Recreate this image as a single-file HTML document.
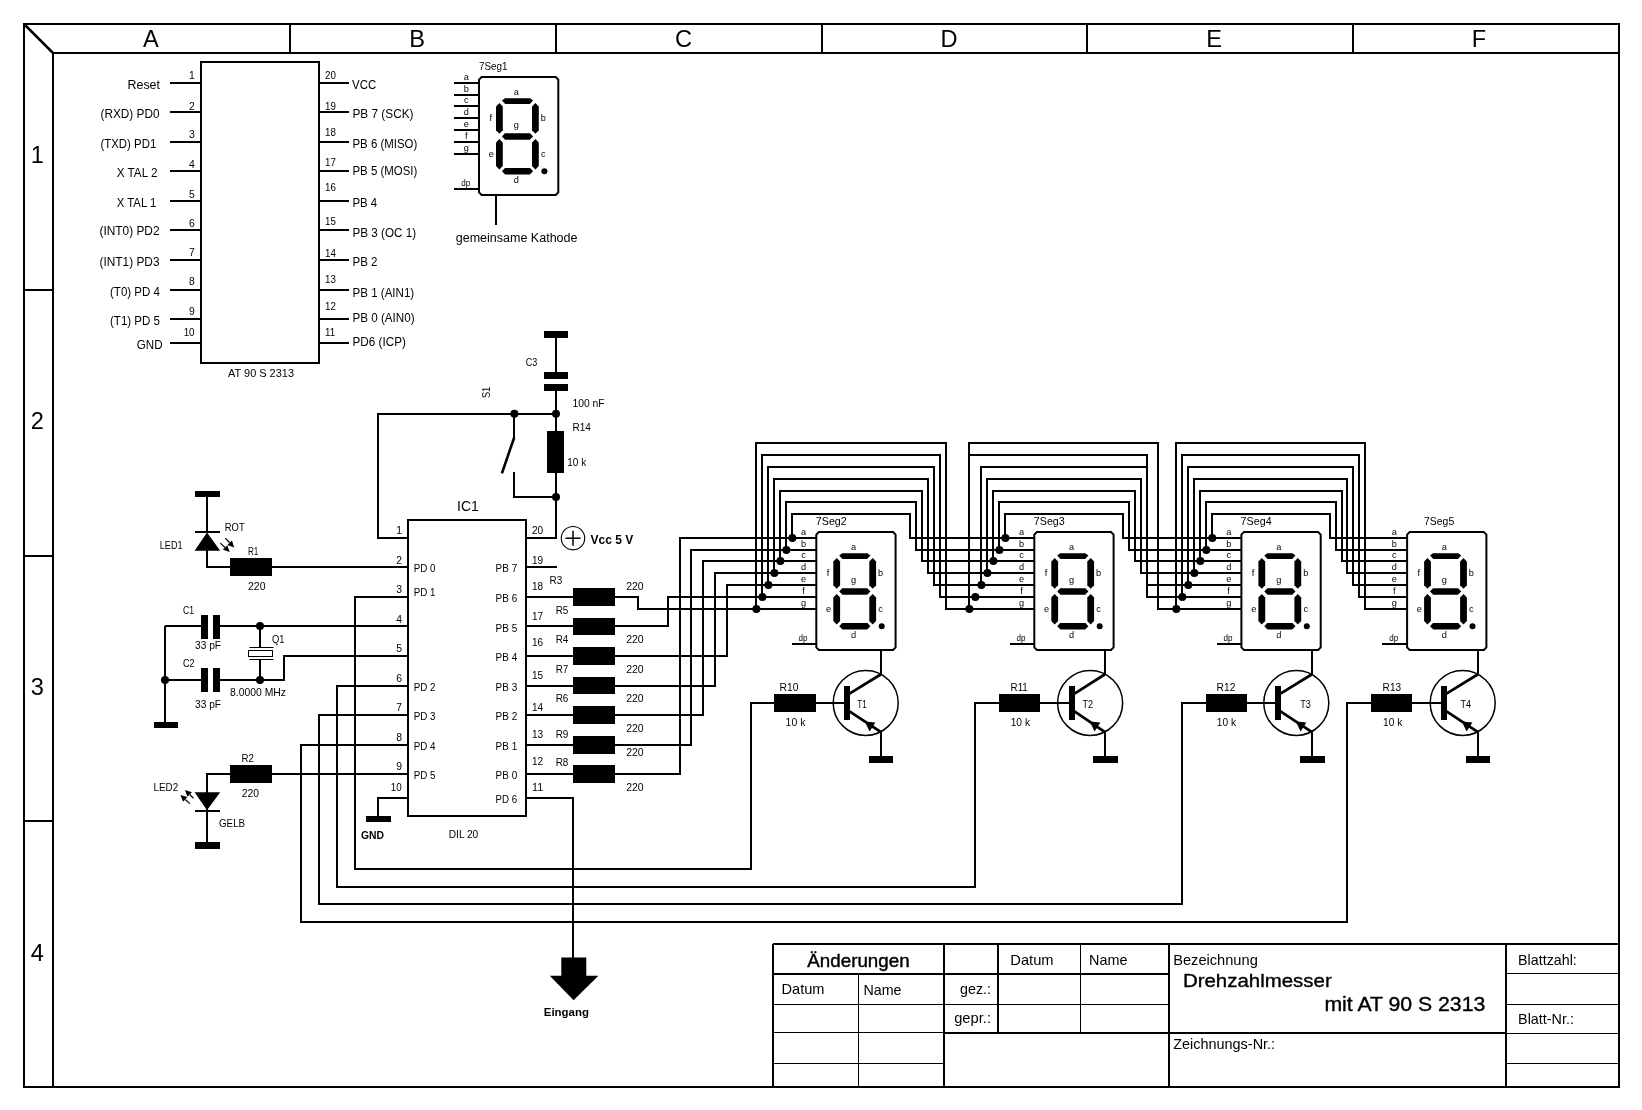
<!DOCTYPE html>
<html lang="de"><head><meta charset="utf-8"><title>Drehzahlmesser mit AT 90 S 2313</title>
<style>
html,body{margin:0;padding:0;background:#fff}
svg{display:block;filter:grayscale(1)}
svg *{vector-effect:none}
text{font-family:"Liberation Sans",Arial,Helvetica,sans-serif;fill:#000;stroke:none}
</style></head><body>
<svg width="1642" height="1110" viewBox="0 0 1642 1110" fill="none" stroke="#000" stroke-linecap="butt" stroke-linejoin="miter">
<rect x="0" y="0" width="1642" height="1110" fill="#fff" stroke="none"/>
<rect x="24" y="24" width="1595" height="1063" stroke-width="2"/>
<line x1="53" y1="53" x2="53" y2="1087" stroke-width="2"/>
<line x1="53" y1="53" x2="1619" y2="53" stroke-width="2"/>
<line x1="24" y1="24" x2="53" y2="53" stroke-width="2.5"/>
<line x1="290" y1="24" x2="290" y2="53" stroke-width="2"/>
<line x1="556" y1="24" x2="556" y2="53" stroke-width="2"/>
<line x1="822" y1="24" x2="822" y2="53" stroke-width="2"/>
<line x1="1087" y1="24" x2="1087" y2="53" stroke-width="2"/>
<line x1="1353" y1="24" x2="1353" y2="53" stroke-width="2"/>
<line x1="24" y1="290" x2="53" y2="290" stroke-width="2"/>
<line x1="24" y1="556" x2="53" y2="556" stroke-width="2"/>
<line x1="24" y1="821" x2="53" y2="821" stroke-width="2"/>
<text x="142.88" y="46.5" font-size="23.6">A</text>
<text x="409.13" y="46.5" font-size="23.6">B</text>
<text x="674.98" y="46.5" font-size="23.6">C</text>
<text x="940.48" y="46.5" font-size="23.6">D</text>
<text x="1206.13" y="46.5" font-size="23.6">E</text>
<text x="1471.79" y="46.5" font-size="23.6">F</text>
<text x="30.64" y="162.5" font-size="23.6">1</text>
<text x="30.64" y="429" font-size="23.6">2</text>
<text x="30.64" y="695" font-size="23.6">3</text>
<text x="30.64" y="961" font-size="23.6">4</text>
<rect x="201" y="62" width="118" height="301" stroke-width="2"/>
<line x1="170" y1="83" x2="201" y2="83" stroke-width="2"/>
<line x1="170" y1="112" x2="201" y2="112" stroke-width="2"/>
<line x1="170" y1="142" x2="201" y2="142" stroke-width="2"/>
<line x1="170" y1="171" x2="201" y2="171" stroke-width="2"/>
<line x1="170" y1="201" x2="201" y2="201" stroke-width="2"/>
<line x1="170" y1="230" x2="201" y2="230" stroke-width="2"/>
<line x1="170" y1="260" x2="201" y2="260" stroke-width="2"/>
<line x1="170" y1="290" x2="201" y2="290" stroke-width="2"/>
<line x1="170" y1="319" x2="201" y2="319" stroke-width="2"/>
<line x1="170" y1="343" x2="201" y2="343" stroke-width="2"/>
<line x1="319" y1="83" x2="349" y2="83" stroke-width="2"/>
<line x1="319" y1="112" x2="349" y2="112" stroke-width="2"/>
<line x1="319" y1="142" x2="349" y2="142" stroke-width="2"/>
<line x1="319" y1="171" x2="349" y2="171" stroke-width="2"/>
<line x1="319" y1="201" x2="349" y2="201" stroke-width="2"/>
<line x1="319" y1="230" x2="349" y2="230" stroke-width="2"/>
<line x1="319" y1="260" x2="349" y2="260" stroke-width="2"/>
<line x1="319" y1="290" x2="349" y2="290" stroke-width="2"/>
<line x1="319" y1="319" x2="349" y2="319" stroke-width="2"/>
<line x1="319" y1="343" x2="349" y2="343" stroke-width="2"/>
<text x="127.5" y="88.75" font-size="12.3" textLength="32.5" lengthAdjust="spacingAndGlyphs">Reset</text>
<text x="100.5" y="118" font-size="12.3" textLength="59" lengthAdjust="spacingAndGlyphs">(RXD) PD0</text>
<text x="100.5" y="147.5" font-size="12.3" textLength="55.75" lengthAdjust="spacingAndGlyphs">(TXD) PD1</text>
<text x="116.75" y="177" font-size="12.3" textLength="40.75" lengthAdjust="spacingAndGlyphs">X TAL 2</text>
<text x="116.75" y="206.75" font-size="12.3" textLength="39.5" lengthAdjust="spacingAndGlyphs">X TAL 1</text>
<text x="99.5" y="235" font-size="12.3" textLength="60" lengthAdjust="spacingAndGlyphs">(INT0) PD2</text>
<text x="99.5" y="266.25" font-size="12.3" textLength="60" lengthAdjust="spacingAndGlyphs">(INT1) PD3</text>
<text x="110" y="295.7" font-size="12.3" textLength="50" lengthAdjust="spacingAndGlyphs">(T0) PD 4</text>
<text x="110" y="325" font-size="12.3" textLength="50" lengthAdjust="spacingAndGlyphs">(T1) PD 5</text>
<text x="136.75" y="349" font-size="12.3" textLength="25.75" lengthAdjust="spacingAndGlyphs">GND</text>
<text x="189.06" y="79.25" font-size="10.4">1</text>
<text x="189.06" y="109.5" font-size="10.4">2</text>
<text x="189.06" y="138.25" font-size="10.4">3</text>
<text x="189.06" y="168.25" font-size="10.4">4</text>
<text x="189.06" y="197.5" font-size="10.4">5</text>
<text x="189.06" y="227" font-size="10.4">6</text>
<text x="189.06" y="256.25" font-size="10.4">7</text>
<text x="189.06" y="285.4" font-size="10.4">8</text>
<text x="189.06" y="314.6" font-size="10.4">9</text>
<text x="183.63" y="335.7" font-size="10.4" textLength="10.87" lengthAdjust="spacingAndGlyphs">10</text>
<text x="325" y="79.25" font-size="10.4" textLength="10.87" lengthAdjust="spacingAndGlyphs">20</text>
<text x="325" y="109.5" font-size="10.4" textLength="10.87" lengthAdjust="spacingAndGlyphs">19</text>
<text x="325" y="135.75" font-size="10.4" textLength="10.87" lengthAdjust="spacingAndGlyphs">18</text>
<text x="325" y="165.75" font-size="10.4" textLength="10.87" lengthAdjust="spacingAndGlyphs">17</text>
<text x="325" y="191.25" font-size="10.4" textLength="10.87" lengthAdjust="spacingAndGlyphs">16</text>
<text x="325" y="224.5" font-size="10.4" textLength="10.87" lengthAdjust="spacingAndGlyphs">15</text>
<text x="325" y="256.75" font-size="10.4" textLength="10.87" lengthAdjust="spacingAndGlyphs">14</text>
<text x="325" y="283" font-size="10.4" textLength="10.87" lengthAdjust="spacingAndGlyphs">13</text>
<text x="325" y="309.5" font-size="10.4" textLength="10.87" lengthAdjust="spacingAndGlyphs">12</text>
<text x="325" y="335.6" font-size="10.4" textLength="10.15" lengthAdjust="spacingAndGlyphs">11</text>
<text x="352" y="88.75" font-size="12.3" textLength="24.25" lengthAdjust="spacingAndGlyphs">VCC</text>
<text x="352.5" y="118" font-size="12.3" textLength="61" lengthAdjust="spacingAndGlyphs">PB 7 (SCK)</text>
<text x="352.5" y="147.5" font-size="12.3" textLength="64.8" lengthAdjust="spacingAndGlyphs">PB 6 (MISO)</text>
<text x="352.5" y="175" font-size="12.3" textLength="64.8" lengthAdjust="spacingAndGlyphs">PB 5 (MOSI)</text>
<text x="352.5" y="206.75" font-size="12.3" textLength="24.7" lengthAdjust="spacingAndGlyphs">PB 4</text>
<text x="352.5" y="237" font-size="12.3" textLength="63.6" lengthAdjust="spacingAndGlyphs">PB 3 (OC 1)</text>
<text x="352.5" y="266.25" font-size="12.3" textLength="25" lengthAdjust="spacingAndGlyphs">PB 2</text>
<text x="352.5" y="296.5" font-size="12.3" textLength="61.7" lengthAdjust="spacingAndGlyphs">PB 1 (AIN1)</text>
<text x="352.5" y="322" font-size="12.3" textLength="62.1" lengthAdjust="spacingAndGlyphs">PB 0 (AIN0)</text>
<text x="352.5" y="345.75" font-size="12.3" textLength="53.4" lengthAdjust="spacingAndGlyphs">PD6 (ICP)</text>
<text x="228" y="377" font-size="10.4" textLength="66" lengthAdjust="spacingAndGlyphs">AT 90 S 2313</text>
<polygon points="481.6,77 555.7,77 558.3,79.6 558.3,192.4 555.7,195 481.6,195 479,192.4 479,79.6" fill="none" stroke-width="2"/>
<polygon points="501.9,100.5 504.9,98.2 530.1,98.2 533.1,100.5 529.8,104 505.2,104" fill="#000" stroke-width="0"/>
<polygon points="501.9,136.4 504.9,133.15 530.1,133.15 533.1,136.4 529.8,139.65 505.2,139.65" fill="#000" stroke-width="0"/>
<polygon points="501.9,171.3 504.9,168.05 530.1,168.05 533.1,171.3 529.8,174.55 505.2,174.55" fill="#000" stroke-width="0"/>
<polygon points="499.4,102.9 502.8,106.4 502.8,130.3 499.4,133.8 496,130.3 496,106.4" fill="#000" stroke-width="0"/>
<polygon points="535.4,102.9 538.8,106.4 538.8,130.3 535.4,133.8 532,130.3 532,106.4" fill="#000" stroke-width="0"/>
<polygon points="499.4,139.1 502.8,142.6 502.8,166.1 499.4,169.6 496,166.1 496,142.6" fill="#000" stroke-width="0"/>
<polygon points="535.4,139.1 538.8,142.6 538.8,166.1 535.4,169.6 532,166.1 532,142.6" fill="#000" stroke-width="0"/>
<circle cx="544.4" cy="171.3" r="3.0" fill="#000" stroke="none"/>
<text x="513.75" y="94.7" font-size="9.2">a</text>
<text x="489.38" y="120.5" font-size="9.2">f</text>
<text x="540.75" y="120.5" font-size="9.2">b</text>
<text x="513.75" y="127.9" font-size="9.2">g</text>
<text x="488.75" y="156.8" font-size="9.2">e</text>
<text x="540.98" y="156.8" font-size="9.2">c</text>
<text x="513.75" y="182.5" font-size="9.2">d</text>
<text x="463.75" y="79.8" font-size="9.2">a</text>
<text x="463.75" y="91.8" font-size="9.2">b</text>
<text x="463.98" y="102.8" font-size="9.2">c</text>
<text x="463.75" y="114.8" font-size="9.2">d</text>
<text x="463.75" y="126.8" font-size="9.2">e</text>
<text x="464.88" y="138.8" font-size="9.2">f</text>
<text x="463.75" y="150.8" font-size="9.2">g</text>
<text x="461.2" y="185.9" font-size="9.2" textLength="9" lengthAdjust="spacingAndGlyphs">dp</text>
<line x1="454" y1="189" x2="479" y2="189" stroke-width="2"/>
<text x="479" y="69.7" font-size="10.4" textLength="28.5" lengthAdjust="spacingAndGlyphs">7Seg1</text>
<line x1="454" y1="83" x2="479" y2="83" stroke-width="2"/>
<line x1="454" y1="95" x2="479" y2="95" stroke-width="2"/>
<line x1="454" y1="106" x2="479" y2="106" stroke-width="2"/>
<line x1="454" y1="118" x2="479" y2="118" stroke-width="2"/>
<line x1="454" y1="130" x2="479" y2="130" stroke-width="2"/>
<line x1="454" y1="142" x2="479" y2="142" stroke-width="2"/>
<line x1="454" y1="154" x2="479" y2="154" stroke-width="2"/>
<line x1="496" y1="195" x2="496" y2="225" stroke-width="2"/>
<text x="455.75" y="242" font-size="12.3" textLength="121.75" lengthAdjust="spacingAndGlyphs">gemeinsame Kathode</text>
<rect x="544" y="331" width="24" height="7" fill="#000" stroke="none"/>
<line x1="556" y1="337" x2="556" y2="373" stroke-width="2"/>
<rect x="544" y="372" width="24" height="7" fill="#000" stroke="none"/>
<rect x="544" y="384" width="24" height="7" fill="#000" stroke="none"/>
<line x1="556" y1="391" x2="556" y2="432" stroke-width="2"/>
<rect x="547" y="431" width="17" height="42" fill="#000" stroke="none"/>
<line x1="556" y1="472" x2="556" y2="538" stroke-width="2"/>
<circle cx="556" cy="413.7" r="4" fill="#000" stroke="none"/>
<circle cx="514.4" cy="413.7" r="4" fill="#000" stroke="none"/>
<circle cx="556" cy="497" r="4" fill="#000" stroke="none"/>
<polyline points="408,538 378,538 378,414 556,414" stroke-width="2"/>
<line x1="514" y1="414" x2="514" y2="439" stroke-width="2"/>
<line x1="514.2" y1="437.5" x2="501.9" y2="473.3" stroke-width="2.6"/>
<polyline points="514,472 514,497 556,497" stroke-width="2"/>
<line x1="526" y1="538" x2="557" y2="538" stroke-width="2"/>
<text x="525.75" y="365.75" font-size="10.4" textLength="11.5" lengthAdjust="spacingAndGlyphs">C3</text>
<text x="490.2" y="398.1" font-size="10.4" transform="rotate(-90 490.2 398.1)" textLength="11.3" lengthAdjust="spacingAndGlyphs">S1</text>
<text x="572.5" y="406.8" font-size="10.4" textLength="32.2" lengthAdjust="spacingAndGlyphs">100 nF</text>
<text x="572.5" y="430.6" font-size="10.4" textLength="18.4" lengthAdjust="spacingAndGlyphs">R14</text>
<text x="567.2" y="465.5" font-size="10.4" textLength="19" lengthAdjust="spacingAndGlyphs">10 k</text>
<circle cx="573" cy="538.2" r="11.7" stroke-width="1.1"/>
<line x1="565.5" y1="538.2" x2="580.6" y2="538.2" stroke-width="1.5"/>
<line x1="573" y1="530.7" x2="573" y2="545.8" stroke-width="1.5"/>
<text x="590.5" y="544" font-size="12.4" font-weight="bold" textLength="42.75" lengthAdjust="spacingAndGlyphs">Vcc 5 V</text>
<rect x="408" y="520" width="118" height="296" stroke-width="2"/>
<text x="457" y="510.6" font-size="14.8" fill="#222" textLength="21.8" lengthAdjust="spacingAndGlyphs">IC1</text>
<text x="396.16" y="533.6" font-size="10.4">1</text>
<text x="396.16" y="563.5" font-size="10.4">2</text>
<text x="396.16" y="592.6" font-size="10.4">3</text>
<text x="396.16" y="622.6" font-size="10.4">4</text>
<text x="396.16" y="651.8" font-size="10.4">5</text>
<text x="396.16" y="681.5" font-size="10.4">6</text>
<text x="396.16" y="710.5" font-size="10.4">7</text>
<text x="396.16" y="740.5" font-size="10.4">8</text>
<text x="396.16" y="769.5" font-size="10.4">9</text>
<text x="390.73" y="791" font-size="10.4" textLength="10.87" lengthAdjust="spacingAndGlyphs">10</text>
<text x="532" y="533.6" font-size="10.4" textLength="11.2" lengthAdjust="spacingAndGlyphs">20</text>
<text x="532" y="563.5" font-size="10.4" textLength="11.2" lengthAdjust="spacingAndGlyphs">19</text>
<text x="532" y="589.5" font-size="10.4" textLength="11.2" lengthAdjust="spacingAndGlyphs">18</text>
<text x="532" y="619.5" font-size="10.4" textLength="11.2" lengthAdjust="spacingAndGlyphs">17</text>
<text x="532" y="645.7" font-size="10.4" textLength="11.2" lengthAdjust="spacingAndGlyphs">16</text>
<text x="532" y="678.7" font-size="10.4" textLength="11.2" lengthAdjust="spacingAndGlyphs">15</text>
<text x="532" y="711.2" font-size="10.4" textLength="11.2" lengthAdjust="spacingAndGlyphs">14</text>
<text x="532" y="738.2" font-size="10.4" textLength="11.2" lengthAdjust="spacingAndGlyphs">13</text>
<text x="532" y="765" font-size="10.4" textLength="11.2" lengthAdjust="spacingAndGlyphs">12</text>
<text x="532" y="790.7" font-size="10.4" textLength="11.2" lengthAdjust="spacingAndGlyphs">11</text>
<text x="413.7" y="571.8" font-size="10.4" textLength="21.8" lengthAdjust="spacingAndGlyphs">PD 0</text>
<text x="413.7" y="596" font-size="10.4" textLength="21.8" lengthAdjust="spacingAndGlyphs">PD 1</text>
<text x="413.7" y="691.2" font-size="10.4" textLength="21.8" lengthAdjust="spacingAndGlyphs">PD 2</text>
<text x="413.7" y="720" font-size="10.4" textLength="21.8" lengthAdjust="spacingAndGlyphs">PD 3</text>
<text x="413.7" y="750" font-size="10.4" textLength="21.8" lengthAdjust="spacingAndGlyphs">PD 4</text>
<text x="413.7" y="778.8" font-size="10.4" textLength="21.8" lengthAdjust="spacingAndGlyphs">PD 5</text>
<text x="495.6" y="571.8" font-size="10.4" textLength="21.6" lengthAdjust="spacingAndGlyphs">PB 7</text>
<text x="495.6" y="601.7" font-size="10.4" textLength="21.6" lengthAdjust="spacingAndGlyphs">PB 6</text>
<text x="495.6" y="631.7" font-size="10.4" textLength="21.6" lengthAdjust="spacingAndGlyphs">PB 5</text>
<text x="495.6" y="661.2" font-size="10.4" textLength="21.6" lengthAdjust="spacingAndGlyphs">PB 4</text>
<text x="495.6" y="691.2" font-size="10.4" textLength="21.6" lengthAdjust="spacingAndGlyphs">PB 3</text>
<text x="495.6" y="720" font-size="10.4" textLength="21.6" lengthAdjust="spacingAndGlyphs">PB 2</text>
<text x="495.6" y="750" font-size="10.4" textLength="21.6" lengthAdjust="spacingAndGlyphs">PB 1</text>
<text x="495.6" y="778.8" font-size="10.4" textLength="21.6" lengthAdjust="spacingAndGlyphs">PB 0</text>
<text x="495.6" y="802.5" font-size="10.4" textLength="21.6" lengthAdjust="spacingAndGlyphs">PD 6</text>
<text x="448.75" y="838" font-size="10.4" textLength="29.5" lengthAdjust="spacingAndGlyphs">DIL 20</text>
<text x="361" y="838.5" font-size="10.6" font-weight="bold" textLength="23" lengthAdjust="spacingAndGlyphs">GND</text>
<line x1="526" y1="567" x2="557" y2="567" stroke-width="2"/>
<rect x="195" y="491" width="25" height="6" fill="#000" stroke="none"/>
<line x1="207" y1="497" x2="207" y2="533" stroke-width="2"/>
<line x1="195" y1="532" x2="220" y2="532" stroke-width="2"/>
<polygon points="207,532.6 220.2,550.8 194.6,550.8" fill="#000" stroke-width="0"/>
<polyline points="207,550 207,567 231,567" stroke-width="2"/>
<rect x="230" y="558" width="42" height="18" fill="#000" stroke="none"/>
<line x1="271" y1="567" x2="408" y2="567" stroke-width="2"/>
<line x1="225.3" y1="538.2" x2="229.68" y2="542.73" stroke-width="1.2"/>
<polygon points="234.2,547.4 227.38,544.95 231.98,540.5" fill="#000" stroke-width="0"/>
<line x1="220.3" y1="543.1" x2="225.03" y2="547.48" stroke-width="1.2"/>
<polygon points="229.8,551.9 222.86,549.83 227.21,545.14" fill="#000" stroke-width="0"/>
<text x="224.8" y="530.7" font-size="10.4" textLength="19.9" lengthAdjust="spacingAndGlyphs">ROT</text>
<text x="159.8" y="549" font-size="10.4" textLength="22.8" lengthAdjust="spacingAndGlyphs">LED1</text>
<text x="248" y="554.5" font-size="10.4" textLength="10.4" lengthAdjust="spacingAndGlyphs">R1</text>
<text x="248" y="590" font-size="10.4" textLength="17.5" lengthAdjust="spacingAndGlyphs">220</text>
<line x1="165" y1="626" x2="202" y2="626" stroke-width="2"/>
<line x1="220" y1="626" x2="408" y2="626" stroke-width="2"/>
<rect x="201" y="615" width="7" height="24" fill="#000" stroke="none"/>
<rect x="213" y="615" width="7" height="24" fill="#000" stroke="none"/>
<line x1="165" y1="680" x2="202" y2="680" stroke-width="2"/>
<rect x="201" y="668" width="7" height="24" fill="#000" stroke="none"/>
<rect x="213" y="668" width="7" height="24" fill="#000" stroke="none"/>
<polyline points="220,680 284,680 284,656 408,656" stroke-width="2"/>
<line x1="165" y1="626" x2="165" y2="722" stroke-width="2"/>
<rect x="154" y="722" width="24" height="6" fill="#000" stroke="none"/>
<circle cx="260" cy="626" r="4" fill="#000" stroke="none"/>
<circle cx="165" cy="680" r="4" fill="#000" stroke="none"/>
<circle cx="260" cy="680" r="4" fill="#000" stroke="none"/>
<line x1="260" y1="626" x2="260" y2="647" stroke-width="2"/>
<line x1="249.5" y1="647.5" x2="273.5" y2="647.5" stroke-width="1"/>
<rect x="248.5" y="650.5" width="24" height="6" stroke-width="1"/>
<line x1="249.5" y1="659.5" x2="273.5" y2="659.5" stroke-width="1"/>
<line x1="260" y1="659" x2="260" y2="680" stroke-width="2"/>
<text x="183" y="614" font-size="10.4" textLength="11" lengthAdjust="spacingAndGlyphs">C1</text>
<text x="195" y="649" font-size="10.4" textLength="26" lengthAdjust="spacingAndGlyphs">33 pF</text>
<text x="272" y="643" font-size="10.4" textLength="12.5" lengthAdjust="spacingAndGlyphs">Q1</text>
<text x="183" y="667" font-size="10.4" textLength="11.5" lengthAdjust="spacingAndGlyphs">C2</text>
<text x="230" y="696.4" font-size="10.4" textLength="56" lengthAdjust="spacingAndGlyphs">8.0000 MHz</text>
<text x="195" y="708" font-size="10.4" textLength="26" lengthAdjust="spacingAndGlyphs">33 pF</text>
<polyline points="231,774 207,774 207,843" stroke-width="2"/>
<rect x="230" y="765" width="42" height="18" fill="#000" stroke="none"/>
<line x1="271" y1="774" x2="408" y2="774" stroke-width="2"/>
<polygon points="194.6,792.2 220.2,792.2 207,810.3" fill="#000" stroke-width="0"/>
<line x1="195" y1="811" x2="220" y2="811" stroke-width="2"/>
<rect x="195" y="842" width="25" height="7" fill="#000" stroke="none"/>
<line x1="193.6" y1="798.4" x2="189.65" y2="794.54" stroke-width="1.2"/>
<polygon points="185,790 191.89,792.25 187.41,796.83" fill="#000" stroke-width="0"/>
<line x1="189.9" y1="803.6" x2="185.24" y2="799.43" stroke-width="1.2"/>
<polygon points="180.4,795.1 187.38,797.05 183.11,801.82" fill="#000" stroke-width="0"/>
<text x="153.6" y="790.7" font-size="10.4" textLength="24.6" lengthAdjust="spacingAndGlyphs">LED2</text>
<text x="241.6" y="761.7" font-size="10.4" textLength="12.4" lengthAdjust="spacingAndGlyphs">R2</text>
<text x="241.8" y="796.6" font-size="10.4" textLength="17.3" lengthAdjust="spacingAndGlyphs">220</text>
<text x="218.9" y="826.5" font-size="10.4" textLength="26.3" lengthAdjust="spacingAndGlyphs">GELB</text>
<polyline points="408,798 378,798 378,817" stroke-width="2"/>
<rect x="366" y="816" width="25" height="6" fill="#000" stroke="none"/>
<polyline points="408,597 355,597 355,869 751,869 751,703 775,703" stroke-width="2"/>
<polyline points="408,686 337,686 337,887 975,887 975,703 1000,703" stroke-width="2"/>
<polyline points="408,715 319,715 319,904 1182,904 1182,703 1207,703" stroke-width="2"/>
<polyline points="408,745 301,745 301,922 1347,922 1347,703 1372,703" stroke-width="2"/>
<rect x="573" y="588" width="42" height="18" fill="#000" stroke="none"/>
<rect x="573" y="618" width="42" height="17" fill="#000" stroke="none"/>
<rect x="573" y="647" width="42" height="18" fill="#000" stroke="none"/>
<rect x="573" y="677" width="42" height="17" fill="#000" stroke="none"/>
<rect x="573" y="706" width="42" height="18" fill="#000" stroke="none"/>
<rect x="573" y="736" width="42" height="18" fill="#000" stroke="none"/>
<rect x="573" y="765" width="42" height="18" fill="#000" stroke="none"/>
<polyline points="526,597 574,597" stroke-width="2"/>
<polyline points="614,597 638,597 638,609 816,609" stroke-width="2"/>
<polyline points="526,626 574,626" stroke-width="2"/>
<polyline points="614,626 668,626 668,597 816,597" stroke-width="2"/>
<polyline points="526,656 574,656" stroke-width="2"/>
<polyline points="614,656 727,656 727,585 816,585" stroke-width="2"/>
<polyline points="526,686 574,686" stroke-width="2"/>
<polyline points="614,686 715,686 715,573 816,573" stroke-width="2"/>
<polyline points="526,715 574,715" stroke-width="2"/>
<polyline points="614,715 703,715 703,561 816,561" stroke-width="2"/>
<polyline points="526,745 574,745" stroke-width="2"/>
<polyline points="614,745 691,745 691,550 816,550" stroke-width="2"/>
<polyline points="526,774 574,774" stroke-width="2"/>
<polyline points="614,774 680,774 680,538 816,538" stroke-width="2"/>
<text x="549.6" y="583.6" font-size="10.4" textLength="12.7" lengthAdjust="spacingAndGlyphs">R3</text>
<text x="555.7" y="613.5" font-size="10.4" textLength="12.7" lengthAdjust="spacingAndGlyphs">R5</text>
<text x="555.7" y="642.6" font-size="10.4" textLength="12.7" lengthAdjust="spacingAndGlyphs">R4</text>
<text x="555.7" y="673" font-size="10.4" textLength="12.7" lengthAdjust="spacingAndGlyphs">R7</text>
<text x="555.7" y="702" font-size="10.4" textLength="12.7" lengthAdjust="spacingAndGlyphs">R6</text>
<text x="555.7" y="737.5" font-size="10.4" textLength="12.7" lengthAdjust="spacingAndGlyphs">R9</text>
<text x="555.7" y="766.2" font-size="10.4" textLength="12.7" lengthAdjust="spacingAndGlyphs">R8</text>
<text x="626.2" y="590" font-size="10.4" textLength="17.5" lengthAdjust="spacingAndGlyphs">220</text>
<text x="626.2" y="643" font-size="10.4" textLength="17.5" lengthAdjust="spacingAndGlyphs">220</text>
<text x="626.2" y="673" font-size="10.4" textLength="17.5" lengthAdjust="spacingAndGlyphs">220</text>
<text x="626.2" y="702" font-size="10.4" textLength="17.5" lengthAdjust="spacingAndGlyphs">220</text>
<text x="626.2" y="732" font-size="10.4" textLength="17.5" lengthAdjust="spacingAndGlyphs">220</text>
<text x="626.2" y="756.2" font-size="10.4" textLength="17.5" lengthAdjust="spacingAndGlyphs">220</text>
<text x="626.2" y="790.7" font-size="10.4" textLength="17.5" lengthAdjust="spacingAndGlyphs">220</text>
<polyline points="526,798 573,798 573,958" stroke-width="2"/>
<polygon points="561.3,957.5 586.3,957.5 586.3,975.8 598.4,975.8 573.6,1000.2 549.8,975.8 561.3,975.8" fill="#000" stroke-width="0"/>
<text x="543.75" y="1016.4" font-size="11.6" font-weight="bold" textLength="45.15" lengthAdjust="spacingAndGlyphs">Eingang</text>
<polygon points="818.9,532 893,532 895.6,534.6 895.6,647.4 893,650 818.9,650 816.3,647.4 816.3,534.6" fill="none" stroke-width="2"/>
<polygon points="839.2,555.5 842.2,553.2 867.4,553.2 870.4,555.5 867.1,559 842.5,559" fill="#000" stroke-width="0"/>
<polygon points="839.2,591.4 842.2,588.15 867.4,588.15 870.4,591.4 867.1,594.65 842.5,594.65" fill="#000" stroke-width="0"/>
<polygon points="839.2,626.3 842.2,623.05 867.4,623.05 870.4,626.3 867.1,629.55 842.5,629.55" fill="#000" stroke-width="0"/>
<polygon points="836.7,557.9 840.1,561.4 840.1,585.3 836.7,588.8 833.3,585.3 833.3,561.4" fill="#000" stroke-width="0"/>
<polygon points="872.7,557.9 876.1,561.4 876.1,585.3 872.7,588.8 869.3,585.3 869.3,561.4" fill="#000" stroke-width="0"/>
<polygon points="836.7,594.1 840.1,597.6 840.1,621.1 836.7,624.6 833.3,621.1 833.3,597.6" fill="#000" stroke-width="0"/>
<polygon points="872.7,594.1 876.1,597.6 876.1,621.1 872.7,624.6 869.3,621.1 869.3,597.6" fill="#000" stroke-width="0"/>
<circle cx="881.7" cy="626.3" r="3.0" fill="#000" stroke="none"/>
<text x="851.05" y="549.7" font-size="9.2">a</text>
<text x="826.68" y="575.5" font-size="9.2">f</text>
<text x="878.05" y="575.5" font-size="9.2">b</text>
<text x="851.05" y="582.9" font-size="9.2">g</text>
<text x="826.05" y="611.8" font-size="9.2">e</text>
<text x="878.28" y="611.8" font-size="9.2">c</text>
<text x="851.05" y="637.5" font-size="9.2">d</text>
<text x="801.05" y="534.8" font-size="9.2">a</text>
<text x="801.05" y="546.8" font-size="9.2">b</text>
<text x="801.28" y="557.8" font-size="9.2">c</text>
<text x="801.05" y="569.8" font-size="9.2">d</text>
<text x="801.05" y="581.8" font-size="9.2">e</text>
<text x="802.18" y="593.8" font-size="9.2">f</text>
<text x="801.05" y="605.8" font-size="9.2">g</text>
<text x="798.5" y="640.9" font-size="9.2" textLength="9" lengthAdjust="spacingAndGlyphs">dp</text>
<line x1="792" y1="644" x2="816" y2="644" stroke-width="2"/>
<text x="815.8" y="524.7" font-size="10.4" textLength="31" lengthAdjust="spacingAndGlyphs">7Seg2</text>
<polygon points="1036.9,532 1111,532 1113.6,534.6 1113.6,647.4 1111,650 1036.9,650 1034.3,647.4 1034.3,534.6" fill="none" stroke-width="2"/>
<polygon points="1057.2,555.5 1060.2,553.2 1085.4,553.2 1088.4,555.5 1085.1,559 1060.5,559" fill="#000" stroke-width="0"/>
<polygon points="1057.2,591.4 1060.2,588.15 1085.4,588.15 1088.4,591.4 1085.1,594.65 1060.5,594.65" fill="#000" stroke-width="0"/>
<polygon points="1057.2,626.3 1060.2,623.05 1085.4,623.05 1088.4,626.3 1085.1,629.55 1060.5,629.55" fill="#000" stroke-width="0"/>
<polygon points="1054.7,557.9 1058.1,561.4 1058.1,585.3 1054.7,588.8 1051.3,585.3 1051.3,561.4" fill="#000" stroke-width="0"/>
<polygon points="1090.7,557.9 1094.1,561.4 1094.1,585.3 1090.7,588.8 1087.3,585.3 1087.3,561.4" fill="#000" stroke-width="0"/>
<polygon points="1054.7,594.1 1058.1,597.6 1058.1,621.1 1054.7,624.6 1051.3,621.1 1051.3,597.6" fill="#000" stroke-width="0"/>
<polygon points="1090.7,594.1 1094.1,597.6 1094.1,621.1 1090.7,624.6 1087.3,621.1 1087.3,597.6" fill="#000" stroke-width="0"/>
<circle cx="1099.7" cy="626.3" r="3.0" fill="#000" stroke="none"/>
<text x="1069.05" y="549.7" font-size="9.2">a</text>
<text x="1044.68" y="575.5" font-size="9.2">f</text>
<text x="1096.05" y="575.5" font-size="9.2">b</text>
<text x="1069.05" y="582.9" font-size="9.2">g</text>
<text x="1044.05" y="611.8" font-size="9.2">e</text>
<text x="1096.28" y="611.8" font-size="9.2">c</text>
<text x="1069.05" y="637.5" font-size="9.2">d</text>
<text x="1019.05" y="534.8" font-size="9.2">a</text>
<text x="1019.05" y="546.8" font-size="9.2">b</text>
<text x="1019.28" y="557.8" font-size="9.2">c</text>
<text x="1019.05" y="569.8" font-size="9.2">d</text>
<text x="1019.05" y="581.8" font-size="9.2">e</text>
<text x="1020.18" y="593.8" font-size="9.2">f</text>
<text x="1019.05" y="605.8" font-size="9.2">g</text>
<text x="1016.5" y="640.9" font-size="9.2" textLength="9" lengthAdjust="spacingAndGlyphs">dp</text>
<line x1="1010" y1="644" x2="1034" y2="644" stroke-width="2"/>
<text x="1033.8" y="524.7" font-size="10.4" textLength="31" lengthAdjust="spacingAndGlyphs">7Seg3</text>
<polygon points="1244,532 1318.1,532 1320.7,534.6 1320.7,647.4 1318.1,650 1244,650 1241.4,647.4 1241.4,534.6" fill="none" stroke-width="2"/>
<polygon points="1264.3,555.5 1267.3,553.2 1292.5,553.2 1295.5,555.5 1292.2,559 1267.6,559" fill="#000" stroke-width="0"/>
<polygon points="1264.3,591.4 1267.3,588.15 1292.5,588.15 1295.5,591.4 1292.2,594.65 1267.6,594.65" fill="#000" stroke-width="0"/>
<polygon points="1264.3,626.3 1267.3,623.05 1292.5,623.05 1295.5,626.3 1292.2,629.55 1267.6,629.55" fill="#000" stroke-width="0"/>
<polygon points="1261.8,557.9 1265.2,561.4 1265.2,585.3 1261.8,588.8 1258.4,585.3 1258.4,561.4" fill="#000" stroke-width="0"/>
<polygon points="1297.8,557.9 1301.2,561.4 1301.2,585.3 1297.8,588.8 1294.4,585.3 1294.4,561.4" fill="#000" stroke-width="0"/>
<polygon points="1261.8,594.1 1265.2,597.6 1265.2,621.1 1261.8,624.6 1258.4,621.1 1258.4,597.6" fill="#000" stroke-width="0"/>
<polygon points="1297.8,594.1 1301.2,597.6 1301.2,621.1 1297.8,624.6 1294.4,621.1 1294.4,597.6" fill="#000" stroke-width="0"/>
<circle cx="1306.8" cy="626.3" r="3.0" fill="#000" stroke="none"/>
<text x="1276.15" y="549.7" font-size="9.2">a</text>
<text x="1251.78" y="575.5" font-size="9.2">f</text>
<text x="1303.15" y="575.5" font-size="9.2">b</text>
<text x="1276.15" y="582.9" font-size="9.2">g</text>
<text x="1251.15" y="611.8" font-size="9.2">e</text>
<text x="1303.38" y="611.8" font-size="9.2">c</text>
<text x="1276.15" y="637.5" font-size="9.2">d</text>
<text x="1226.15" y="534.8" font-size="9.2">a</text>
<text x="1226.15" y="546.8" font-size="9.2">b</text>
<text x="1226.38" y="557.8" font-size="9.2">c</text>
<text x="1226.15" y="569.8" font-size="9.2">d</text>
<text x="1226.15" y="581.8" font-size="9.2">e</text>
<text x="1227.28" y="593.8" font-size="9.2">f</text>
<text x="1226.15" y="605.8" font-size="9.2">g</text>
<text x="1223.6" y="640.9" font-size="9.2" textLength="9" lengthAdjust="spacingAndGlyphs">dp</text>
<line x1="1217" y1="644" x2="1241" y2="644" stroke-width="2"/>
<text x="1240.6" y="524.7" font-size="10.4" textLength="31" lengthAdjust="spacingAndGlyphs">7Seg4</text>
<polygon points="1409.7,532 1483.8,532 1486.4,534.6 1486.4,647.4 1483.8,650 1409.7,650 1407.1,647.4 1407.1,534.6" fill="none" stroke-width="2"/>
<polygon points="1430,555.5 1433,553.2 1458.2,553.2 1461.2,555.5 1457.9,559 1433.3,559" fill="#000" stroke-width="0"/>
<polygon points="1430,591.4 1433,588.15 1458.2,588.15 1461.2,591.4 1457.9,594.65 1433.3,594.65" fill="#000" stroke-width="0"/>
<polygon points="1430,626.3 1433,623.05 1458.2,623.05 1461.2,626.3 1457.9,629.55 1433.3,629.55" fill="#000" stroke-width="0"/>
<polygon points="1427.5,557.9 1430.9,561.4 1430.9,585.3 1427.5,588.8 1424.1,585.3 1424.1,561.4" fill="#000" stroke-width="0"/>
<polygon points="1463.5,557.9 1466.9,561.4 1466.9,585.3 1463.5,588.8 1460.1,585.3 1460.1,561.4" fill="#000" stroke-width="0"/>
<polygon points="1427.5,594.1 1430.9,597.6 1430.9,621.1 1427.5,624.6 1424.1,621.1 1424.1,597.6" fill="#000" stroke-width="0"/>
<polygon points="1463.5,594.1 1466.9,597.6 1466.9,621.1 1463.5,624.6 1460.1,621.1 1460.1,597.6" fill="#000" stroke-width="0"/>
<circle cx="1472.5" cy="626.3" r="3.0" fill="#000" stroke="none"/>
<text x="1441.85" y="549.7" font-size="9.2">a</text>
<text x="1417.48" y="575.5" font-size="9.2">f</text>
<text x="1468.85" y="575.5" font-size="9.2">b</text>
<text x="1441.85" y="582.9" font-size="9.2">g</text>
<text x="1416.85" y="611.8" font-size="9.2">e</text>
<text x="1469.08" y="611.8" font-size="9.2">c</text>
<text x="1441.85" y="637.5" font-size="9.2">d</text>
<text x="1391.85" y="534.8" font-size="9.2">a</text>
<text x="1391.85" y="546.8" font-size="9.2">b</text>
<text x="1392.08" y="557.8" font-size="9.2">c</text>
<text x="1391.85" y="569.8" font-size="9.2">d</text>
<text x="1391.85" y="581.8" font-size="9.2">e</text>
<text x="1392.98" y="593.8" font-size="9.2">f</text>
<text x="1391.85" y="605.8" font-size="9.2">g</text>
<text x="1389.3" y="640.9" font-size="9.2" textLength="9" lengthAdjust="spacingAndGlyphs">dp</text>
<line x1="1382" y1="644" x2="1407" y2="644" stroke-width="2"/>
<text x="1424" y="524.7" font-size="10.4" textLength="30.2" lengthAdjust="spacingAndGlyphs">7Seg5</text>
<polyline points="756,609 756,443 946,443 946,609 1034,609" stroke-width="2"/>
<circle cx="756.4" cy="609" r="4" fill="#000" stroke="none"/>
<polyline points="762,597 762,455 940,455 940,597 1034,597" stroke-width="2"/>
<circle cx="762.4" cy="597" r="4" fill="#000" stroke="none"/>
<polyline points="768,585 768,467 934,467 934,585 1034,585" stroke-width="2"/>
<circle cx="768.4" cy="585" r="4" fill="#000" stroke="none"/>
<polyline points="774,573 774,479 928,479 928,573 1034,573" stroke-width="2"/>
<circle cx="774.4" cy="573" r="4" fill="#000" stroke="none"/>
<polyline points="780,561 780,491 922,491 922,561 1034,561" stroke-width="2"/>
<circle cx="780.4" cy="561" r="4" fill="#000" stroke="none"/>
<polyline points="786,550 786,502 916,502 916,550 1034,550" stroke-width="2"/>
<circle cx="786.4" cy="550" r="4" fill="#000" stroke="none"/>
<polyline points="792,538 792,514 910,514 910,538 1034,538" stroke-width="2"/>
<circle cx="792.4" cy="538" r="4" fill="#000" stroke="none"/>
<polyline points="969,609 969,443 1158,443 1158,609 1241,609" stroke-width="2"/>
<circle cx="969.4" cy="609" r="4" fill="#000" stroke="none"/>
<polyline points="969,455 1147,455 1147,597 1241,597" stroke-width="2"/>
<circle cx="975.4" cy="597" r="4" fill="#000" stroke="none"/>
<polyline points="981,585 981,467 1147,467 1147,585 1241,585" stroke-width="2"/>
<circle cx="981.4" cy="585" r="4" fill="#000" stroke="none"/>
<polyline points="987,573 987,479 1141,479 1141,573 1241,573" stroke-width="2"/>
<circle cx="987.4" cy="573" r="4" fill="#000" stroke="none"/>
<polyline points="993,561 993,491 1135,491 1135,561 1241,561" stroke-width="2"/>
<circle cx="993.4" cy="561" r="4" fill="#000" stroke="none"/>
<polyline points="999,550 999,502 1129,502 1129,550 1241,550" stroke-width="2"/>
<circle cx="999.4" cy="550" r="4" fill="#000" stroke="none"/>
<polyline points="1005,538 1005,514 1123,514 1123,538 1241,538" stroke-width="2"/>
<circle cx="1005.4" cy="538" r="4" fill="#000" stroke="none"/>
<polyline points="1176,609 1176,443 1365,443 1365,609 1407,609" stroke-width="2"/>
<circle cx="1176.3" cy="609" r="4" fill="#000" stroke="none"/>
<polyline points="1182,597 1182,455 1359,455 1359,597 1407,597" stroke-width="2"/>
<circle cx="1182.3" cy="597" r="4" fill="#000" stroke="none"/>
<polyline points="1188,585 1188,467 1353,467 1353,585 1407,585" stroke-width="2"/>
<circle cx="1188.3" cy="585" r="4" fill="#000" stroke="none"/>
<polyline points="1194,573 1194,479 1347,479 1347,573 1407,573" stroke-width="2"/>
<circle cx="1194.3" cy="573" r="4" fill="#000" stroke="none"/>
<polyline points="1200,561 1200,491 1342,491 1342,561 1407,561" stroke-width="2"/>
<circle cx="1200.3" cy="561" r="4" fill="#000" stroke="none"/>
<polyline points="1206,550 1206,502 1336,502 1336,550 1407,550" stroke-width="2"/>
<circle cx="1206.3" cy="550" r="4" fill="#000" stroke="none"/>
<polyline points="1212,538 1212,514 1330,514 1330,538 1407,538" stroke-width="2"/>
<circle cx="1212.3" cy="538" r="4" fill="#000" stroke="none"/>
<line x1="881" y1="650" x2="881" y2="675" stroke-width="2"/>
<circle cx="865.7" cy="702.9" r="32.5" stroke-width="1.5"/>
<rect x="844" y="686" width="6" height="34" fill="#000" stroke="none"/>
<line x1="815" y1="703" x2="845" y2="703" stroke-width="2"/>
<line x1="849.5" y1="693.6" x2="881" y2="674.3" stroke-width="2.8"/>
<line x1="849.5" y1="711.4" x2="881" y2="732.2" stroke-width="2.8"/>
<polygon points="864.8,721.4 875.4,722.6 869.6,731.5" fill="#000" stroke-width="0"/>
<line x1="881" y1="732" x2="881" y2="757" stroke-width="2"/>
<rect x="869" y="756" width="24" height="7" fill="#000" stroke="none"/>
<rect x="774" y="694" width="42" height="18" fill="#000" stroke="none"/>
<text x="857.2" y="707.6" font-size="10.2" textLength="9.5" lengthAdjust="spacingAndGlyphs">T1</text>
<text x="779.6" y="690.7" font-size="10.4" textLength="18.8" lengthAdjust="spacingAndGlyphs">R10</text>
<text x="785.6" y="725.6" font-size="10.4" textLength="19.8" lengthAdjust="spacingAndGlyphs">10 k</text>
<line x1="1105" y1="650" x2="1105" y2="675" stroke-width="2"/>
<circle cx="1090.1" cy="702.9" r="32.5" stroke-width="1.5"/>
<rect x="1069" y="686" width="6" height="34" fill="#000" stroke="none"/>
<line x1="1039" y1="703" x2="1070" y2="703" stroke-width="2"/>
<line x1="1074.5" y1="693.6" x2="1105" y2="674.3" stroke-width="2.8"/>
<line x1="1074.5" y1="711.4" x2="1105" y2="732.2" stroke-width="2.8"/>
<polygon points="1089.8,721.4 1100.4,722.6 1094.6,731.5" fill="#000" stroke-width="0"/>
<line x1="1105" y1="732" x2="1105" y2="757" stroke-width="2"/>
<rect x="1093" y="756" width="25" height="7" fill="#000" stroke="none"/>
<rect x="999" y="694" width="41" height="18" fill="#000" stroke="none"/>
<text x="1082.4" y="707.6" font-size="10.2" textLength="10.6" lengthAdjust="spacingAndGlyphs">T2</text>
<text x="1010.6" y="690.7" font-size="10.4" textLength="17.2" lengthAdjust="spacingAndGlyphs">R11</text>
<text x="1010.7" y="725.6" font-size="10.4" textLength="19.3" lengthAdjust="spacingAndGlyphs">10 k</text>
<line x1="1312" y1="650" x2="1312" y2="675" stroke-width="2"/>
<circle cx="1296.3" cy="702.9" r="32.5" stroke-width="1.5"/>
<rect x="1275" y="686" width="6" height="34" fill="#000" stroke="none"/>
<line x1="1246" y1="703" x2="1276" y2="703" stroke-width="2"/>
<line x1="1280.5" y1="693.6" x2="1312" y2="674.3" stroke-width="2.8"/>
<line x1="1280.5" y1="711.4" x2="1312" y2="732.2" stroke-width="2.8"/>
<polygon points="1295.8,721.4 1306.4,722.6 1300.6,731.5" fill="#000" stroke-width="0"/>
<line x1="1312" y1="732" x2="1312" y2="757" stroke-width="2"/>
<rect x="1300" y="756" width="25" height="7" fill="#000" stroke="none"/>
<rect x="1206" y="694" width="41" height="18" fill="#000" stroke="none"/>
<text x="1300.3" y="707.6" font-size="10.2" textLength="10.6" lengthAdjust="spacingAndGlyphs">T3</text>
<text x="1216.6" y="690.7" font-size="10.4" textLength="18.8" lengthAdjust="spacingAndGlyphs">R12</text>
<text x="1216.8" y="725.6" font-size="10.4" textLength="19.2" lengthAdjust="spacingAndGlyphs">10 k</text>
<line x1="1478" y1="650" x2="1478" y2="675" stroke-width="2"/>
<circle cx="1462.7" cy="702.9" r="32.5" stroke-width="1.5"/>
<rect x="1441" y="686" width="6" height="34" fill="#000" stroke="none"/>
<line x1="1411" y1="703" x2="1442" y2="703" stroke-width="2"/>
<line x1="1446.5" y1="693.6" x2="1478" y2="674.3" stroke-width="2.8"/>
<line x1="1446.5" y1="711.4" x2="1478" y2="732.2" stroke-width="2.8"/>
<polygon points="1461.8,721.4 1472.4,722.6 1466.6,731.5" fill="#000" stroke-width="0"/>
<line x1="1478" y1="732" x2="1478" y2="757" stroke-width="2"/>
<rect x="1466" y="756" width="24" height="7" fill="#000" stroke="none"/>
<rect x="1371" y="694" width="41" height="18" fill="#000" stroke="none"/>
<text x="1460.5" y="707.6" font-size="10.2" textLength="10.6" lengthAdjust="spacingAndGlyphs">T4</text>
<text x="1382.6" y="690.7" font-size="10.4" textLength="18.5" lengthAdjust="spacingAndGlyphs">R13</text>
<text x="1383" y="725.6" font-size="10.4" textLength="19.3" lengthAdjust="spacingAndGlyphs">10 k</text>
<line x1="773" y1="944" x2="1619" y2="944" stroke-width="2"/>
<line x1="773" y1="944" x2="773" y2="1087" stroke-width="2"/>
<line x1="944" y1="944" x2="944" y2="1087" stroke-width="2"/>
<line x1="998" y1="944" x2="998" y2="1033" stroke-width="2"/>
<line x1="1169" y1="944" x2="1169" y2="1087" stroke-width="2"/>
<line x1="1506" y1="944" x2="1506" y2="1087" stroke-width="2"/>
<line x1="1080.5" y1="944.5" x2="1080.5" y2="1032.5" stroke-width="1"/>
<line x1="858.5" y1="973.5" x2="858.5" y2="1087.5" stroke-width="1"/>
<line x1="773" y1="974" x2="1169" y2="974" stroke-width="2"/>
<line x1="773.5" y1="1004.5" x2="1168.5" y2="1004.5" stroke-width="1"/>
<line x1="773.5" y1="1032.5" x2="944.5" y2="1032.5" stroke-width="1"/>
<line x1="944" y1="1033" x2="1506" y2="1033" stroke-width="2"/>
<line x1="773.5" y1="1063.5" x2="944.5" y2="1063.5" stroke-width="1"/>
<line x1="1506.5" y1="973.5" x2="1619.5" y2="973.5" stroke-width="1"/>
<line x1="1506.5" y1="1004.5" x2="1619.5" y2="1004.5" stroke-width="1"/>
<line x1="1506.5" y1="1033.5" x2="1619.5" y2="1033.5" stroke-width="1"/>
<line x1="1506.5" y1="1063.5" x2="1619.5" y2="1063.5" stroke-width="1"/>
<text x="807.3" y="966.8" font-size="18.2" style="stroke:#000;stroke-width:0.4px" textLength="102.3" lengthAdjust="spacingAndGlyphs">Änderungen</text>
<text x="781.5" y="993.7" font-size="14.8" textLength="43" lengthAdjust="spacingAndGlyphs">Datum</text>
<text x="863.4" y="994.5" font-size="14.8" textLength="38.1" lengthAdjust="spacingAndGlyphs">Name</text>
<text x="960" y="993.7" font-size="14.8" textLength="31" lengthAdjust="spacingAndGlyphs">gez.:</text>
<text x="954.2" y="1022.7" font-size="14.8" textLength="36.8" lengthAdjust="spacingAndGlyphs">gepr.:</text>
<text x="1010.3" y="965" font-size="14.8" textLength="43.3" lengthAdjust="spacingAndGlyphs">Datum</text>
<text x="1089" y="965" font-size="14.8" textLength="38.5" lengthAdjust="spacingAndGlyphs">Name</text>
<text x="1173.2" y="964.6" font-size="14.6" textLength="84.6" lengthAdjust="spacingAndGlyphs">Bezeichnung</text>
<text x="1182.9" y="987.2" font-size="18.8" style="stroke:#000;stroke-width:0.35px" textLength="148.8" lengthAdjust="spacingAndGlyphs">Drehzahlmesser</text>
<text x="1324.4" y="1011.3" font-size="19.3" style="stroke:#000;stroke-width:0.35px" textLength="160.9" lengthAdjust="spacingAndGlyphs">mit AT 90 S 2313</text>
<text x="1173.2" y="1048.9" font-size="14.6" textLength="101.9" lengthAdjust="spacingAndGlyphs">Zeichnungs-Nr.:</text>
<text x="1518.1" y="964.6" font-size="14.6" textLength="58.7" lengthAdjust="spacingAndGlyphs">Blattzahl:</text>
<text x="1518.1" y="1023.9" font-size="14.6" textLength="55.8" lengthAdjust="spacingAndGlyphs">Blatt-Nr.:</text>
</svg>
</body></html>
